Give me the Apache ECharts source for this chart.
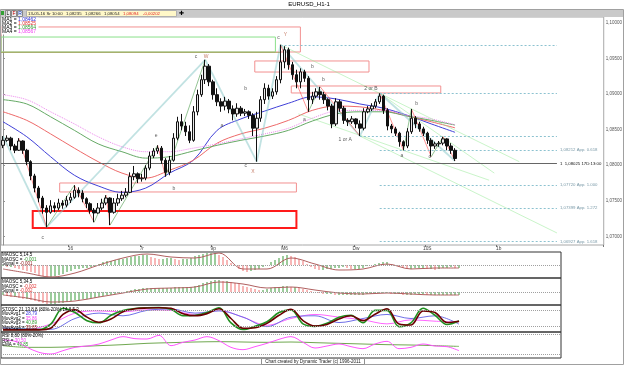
<!DOCTYPE html>
<html>
<head>
<meta charset="utf-8">
<title>EURUSD_H1-1</title>
<script src="https://cdn.jsdelivr.net/npm/echarts@6.0.0/dist/echarts.min.js"></script>
<style>
  html, body { margin: 0; padding: 0; background: #fff; }
  #main { width: 625px; height: 365px; }
</style>
</head>
<body>
<div id="main"></div>
<script>
// EURUSD H1 : price + 4 MAs + wave marks, then MAOSC x2, STOSC, RSI panels

// candles, open = previous close
var firstOpen = 1.0828;
var closes = [
  1.0835,1.0838,1.0827,1.0821,1.0834,1.0821,1.0805,1.0785,1.0768,1.0754,
  1.0740,1.0734,1.0743,1.0740,1.0747,1.0744,1.0751,1.0755,1.0765,1.0761,
  1.0753,1.0746,1.0737,1.0733,1.0740,1.0747,1.0754,1.0734,1.0747,1.0753,
  1.0758,1.0762,1.0784,1.0788,1.0781,1.0782,1.0796,1.0813,1.0820,1.0824,
  1.0807,1.0790,1.0807,1.0838,1.0861,1.0855,1.0847,1.0835,1.0875,1.0899,
  1.0920,1.0939,1.0917,1.0899,1.0889,1.0883,1.0890,1.0879,1.0872,1.0880,
  1.0873,1.0875,1.0870,1.0852,1.0866,1.0892,1.0908,1.0897,1.0903,1.0920,
  1.0945,1.0962,1.0941,1.0927,1.0917,1.0931,1.0922,1.0892,1.0897,1.0903,
  1.0899,1.0892,1.0883,1.0858,1.0889,1.0880,1.0863,1.0861,1.0865,1.0858,
  1.0852,1.0875,1.0879,1.0883,1.0889,1.0897,1.0877,1.0855,1.0851,1.0845,
  1.0833,1.0827,1.0847,1.0866,1.0858,1.0851,1.0845,1.0835,1.0827,1.0830,
  1.0831,1.0837,1.0827,1.0821,1.08094
];
var highs = [
  1.0841,1.0842,1.0840,1.0830,1.0838,1.0835,1.0823,1.0807,1.0788,1.0771,
  1.0757,1.0744,1.0751,1.0748,1.0753,1.0751,1.0757,1.0761,1.0772,1.0769,
  1.0765,1.0755,1.0748,1.0740,1.0747,1.0753,1.0758,1.0755,1.0754,1.0760,
  1.0764,1.0768,1.0790,1.0799,1.0790,1.0788,1.0800,1.0819,1.0824,1.0828,
  1.0827,1.0810,1.0813,1.0845,1.0868,1.0872,1.0861,1.0856,1.0883,1.0906,
  1.0927,1.0948,1.0942,1.0920,1.0908,1.0894,1.0896,1.0893,1.0884,1.0887,
  1.0883,1.0879,1.0877,1.0873,1.0875,1.0897,1.0915,1.0913,1.0908,1.0925,
  1.0969,1.0967,1.0965,1.0945,1.0934,1.0936,1.0934,1.0925,1.0903,1.0908,
  1.0910,1.0903,1.0894,1.0886,1.0894,1.0892,1.0883,1.0866,1.0869,1.0866,
  1.0863,1.0880,1.0883,1.0887,1.0893,1.0901,1.0899,1.0880,1.0858,1.0854,
  1.0847,1.0835,1.0852,1.0879,1.0869,1.0861,1.0854,1.0847,1.0838,1.0833,
  1.0834,1.0840,1.0838,1.0831,1.0824
];
var lows = [
  1.0824,1.0833,1.0821,1.0817,1.0820,1.0816,1.0800,1.0779,1.0762,1.0748,
  1.0732,1.0713,1.0732,1.0734,1.0737,1.0739,1.0741,1.0747,1.0753,1.0755,
  1.0748,1.0740,1.0732,1.0720,1.0732,1.0737,1.0744,1.0716,1.0732,1.0743,
  1.0750,1.0755,1.0761,1.0779,1.0775,1.0777,1.0779,1.0793,1.0810,1.0816,
  1.0802,1.0784,1.0786,1.0805,1.0835,1.0849,1.0841,1.0831,1.0833,1.0870,
  1.0896,1.0914,1.0911,1.0892,1.0883,1.0875,1.0877,1.0873,1.0863,1.0868,
  1.0869,1.0869,1.0865,1.0841,1.0805,1.0861,1.0886,1.0892,1.0893,1.0899,
  1.0915,1.0936,1.0934,1.0920,1.0908,1.0908,1.0917,1.0875,1.0886,1.0894,
  1.0892,1.0886,1.0877,1.0852,1.0855,1.0875,1.0858,1.0855,1.0858,1.0852,
  1.0841,1.0849,1.0873,1.0876,1.0880,1.0886,1.0872,1.0849,1.0845,1.0841,
  1.0826,1.0821,1.0824,1.0844,1.0852,1.0847,1.0841,1.0830,1.0812,1.0823,
  1.0826,1.0828,1.0821,1.0816,1.0806
];

var SLOTS = 152;      // main chart incl. empty future space
var SUB_SLOTS = 140;  // oscillator panels are narrower

var dayIdx = [17, 35, 53, 71, 89, 107, 125];
var dayLabels = ['16', '7r', '9p', 'M6', 'Dw', '10S', '1b'];
var priceTicks = [1.07, 1.075, 1.08, 1.085, 1.09, 1.095, 1.10];
var priceMin = 1.06881, priceMax = 1.10080;

// moving averages, read every 6th bar
var maIdx = [0,6,12,18,24,30,36,42,48,54,60,66,72,78,84,90,96,102,108,114];
var ma1 = [1.0861,1.0840,1.0812,1.0786,1.0771,1.0762,1.0768,1.0789,1.0807,1.0849,1.0865,1.0876,1.0887,1.0896,1.0893,1.0886,1.0880,1.0870,1.0858,1.08462];
var ma2 = [1.0875,1.0863,1.0844,1.0824,1.0805,1.0789,1.0782,1.0793,1.0807,1.0831,1.0844,1.0852,1.0863,1.0877,1.0883,1.0882,1.0877,1.0869,1.0861,1.08525];
var ma3 = [1.0892,1.0886,1.0868,1.0849,1.0830,1.0819,1.0810,1.0812,1.0820,1.0828,1.0835,1.0841,1.0849,1.0862,1.0872,1.0875,1.0875,1.0869,1.0863,1.08564];
var ma4 = [1.0899,1.0892,1.0875,1.0858,1.0840,1.0826,1.0819,1.0819,1.0824,1.0830,1.0837,1.0844,1.0852,1.0866,1.0876,1.0877,1.0877,1.0870,1.0865,1.08567];

// wave drawing: [bar, price]
var tealZig = [[0,1.0841],[11,1.0713],[51,1.0948],[64,1.0805],[70,1.0969],[90,1.0841],[95,1.0901],[114,1.0806]];
var minorZig = [
  [[4,1.0838],[11,1.0713],[18,1.0772],[23,1.0720],[26,1.0758],[27,1.0716],[39,1.0828],[41,1.0784],[51,1.0948]],
  [[70,1.0969],[77,1.0875],[80,1.0910],[90,1.0841]],
  [[95,1.0901],[101,1.0821],[103,1.0879],[108,1.0812],[111,1.0840],[114,1.0806]]
];
var trendLines = [
  [[70,1.0969],[130.2,1.0805]],
  [[95,1.0901],[123.9,1.0789]],
  [[74.5,1.0872],[122.6,1.0779]],
  [[90,1.0841],[139.7,1.0705]]
];
var levelLines = [[70,1.0969],[95,1.0901],[90,1.0841]];
var levelEnd = 139.7;
var fibStart = 95;
var fibPrices = [1.08212, 1.07720, 1.07399, 1.06927];
var fibRatios = ['0.618', '1.000', '1.272', '1.618'];
var pivotPrice = 1.08025;
var lastPrice = 1.08094;

var redBox = [[7.5,1.07358],[74,1.07120]];
var pinkBoxes = [
  [[-0.5,1.09940],[75,1.09589]],
  [[14.3,1.07751],[74,1.07625]],
  [[63.5,1.09463],[92.3,1.09308]],
  [[72.7,1.09112],[110.4,1.09014]]
];
var greenBox = [[-0.5,1.09799],[68.7,1.09589]];
var oliveLine = [[-0.5,1.09589],[70,1.09589]];

var noteText  = ['c','e','b','c','W','a','b','c','X','c','Y','b','b','a','1 or A','2 or B','a','b','c'];
var noteIdx   = [10,38.6,43.1,48.7,51.2,55.2,61.2,61.2,63,69.5,71.2,78,80.8,76,86.3,92.8,100.6,104.3,107.6];
var notePrice = [1.06987,1.08410,1.07667,1.09519,1.09519,1.08551,1.09070,1.07989,1.07905,1.09785,1.09827,1.09378,1.09196,1.08635,1.08354,1.09070,1.08130,1.08859,1.08116];

// MAOSC 5,14,5 (pips)
var osc1Hist = [
  -1,-2,-2,-3,-4,-5,-6,-7,-8,-10,
  -11,-12,-12,-11,-10,-9,-7,-6,-4,-4,
  -3,-3,-2,-1,1,3,4,4,5,6,
  6,7,8,9,9,10,10,8,7,6,
  6,7,7,6,5,6,6,7,9,10,
  11,12,12,12,10,8,5,2,-1,-4,
  -6,-7,-6,-5,-4,-2,0,3,5,7,
  9,10,9,8,6,4,1,-2,-4,-5,
  -5,-4,-4,-3,-3,-2,-3,-4,-4,-4,
  -3,-1,0,1,2,3,3,1,-1,-2,
  -3,-4,-4,-3,-3,-3,-4,-4,-5,-4,
  -3,-3,-2,-3,-3
];
var osc1Signal = [-4,-8,-12,-8,0,7,11,8,7,12,-4,-4,7,1,-5,-4,1,-4,-3,-3];

// MAOSC 5,34,5 (pips)
var osc2Hist = [
  -3,-4,-5,-5,-6,-7,-7,-8,-9,-10,
  -11,-12,-12,-12,-11,-11,-10,-9,-8,-8,
  -7,-7,-6,-6,-5,-4,-3,-3,-2,-1,
  0,1,2,3,3,4,4,4,4,4,
  4,4,4,5,5,5,5,5,6,7,
  9,10,11,12,12,11,11,10,9,8,
  6,5,4,3,2,2,3,4,5,5,
  6,6,5,5,4,3,2,1,0,-1,
  -2,-2,-2,-3,-3,-3,-3,-3,-3,-3,
  -3,-2,-2,-1,-1,-1,-1,-2,-2,-2,
  -3,-3,-3,-2,-2,-2,-3,-3,-3,-3,
  -3,-3,-3,-3,-3
];
var osc2Signal = [-3,-6,-10,-9,-5,-1,3,4,5,10,8,4,5,2,-1,-2,-1,-2,-3,-3];

// STOSC, read every 3rd bar (fast pair) / every 6th bar (slow pair)
var stIdx = [0,3,6,9,12,15,18,21,24,27,30,33,36,39,42,45,48,51,54,57,60,63,66,69,72,75,78,81,84,87,90,93,96,99,102,105,108,111,114];
var stGreen = [9,9,9,9,30,88,72,42,34,62,80,87,90,91,84,60,62,72,90,34,9,21,38,72,82,30,21,32,55,62,34,80,80,20,34,88,62,28,41];
var stRed   = [8,8,8,8,15,65,82,55,36,48,75,86,89,90,88,68,60,68,86,50,14,16,32,62,84,42,22,28,48,60,42,66,86,30,26,78,72,35,40];
var stBlue  = [15,12,10,50,70,60,80,85,70,78,55,20,55,60,35,50,65,50,60,29];
var stPink  = [12,10,30,70,78,75,82,80,65,80,55,25,50,65,55,45,30,45,40,36];

// RSI 8 + EMA
var rsi = [62,58,40,25,20,30,40,44,50,62,72,66,65,76,45,55,62,72,60,40,33,42,52,64,72,55,38,44,50,42,36,50,58,36,40,50,44,42,30];
var rsiEma = [45,40,40,42,45,48,52,54,56,57,56,55,56,54,52,50,48,47,45,42.85];

var FONT = '"Liberation Sans", Arial, sans-serif';

function pairs(idx, vals) { return idx.map(function (x, k) { return [x, vals[k]]; }); }
function seq(vals) { return vals.map(function (v, i) { return [i, v]; }); }
function fmtPrice(v) { return v.toFixed(5).replace('.', ','); }
function isDay(i) { return dayIdx.indexOf(i) >= 0; }

var cats = [];
for (var i = 0; i < SLOTS; i++) cats.push('');

var candles = closes.map(function (c, i) {
  var o = i ? closes[i - 1] : firstOpen;
  return [o, c, Math.min(lows[i], o, c), Math.max(highs[i], o, c)];
});

// zigzag / trend segments
var segs = [];
function pushZig(pts, up, down, w) {
  for (var k = 1; k < pts.length; k++) {
    segs.push({ coords: [pts[k - 1], pts[k]], lineStyle: { color: pts[k][1] > pts[k - 1][1] ? up : down, width: w } });
  }
}
trendLines.forEach(function (l) { segs.push({ coords: l, lineStyle: { color: '#94ea94', width: 1 } }); });
pushZig(tealZig, '#84c6c6', '#84c6c6', 1.8);
minorZig.forEach(function (run) { pushZig(run, '#2a8a2a', '#ff2a2a', 1); });
segs.push({ coords: oliveLine, lineStyle: { color: '#8c8c30', width: 1 } });

var levelData = levelLines.map(function (p) {
  return [{ coord: p }, { coord: [levelEnd, p[1]] }];
});
fibPrices.forEach(function (p, k) {
  levelData.push([{ coord: [fibStart, p], label: { show: true, formatter: fmtPrice(p) + ' App. ' + fibRatios[k] } }, { coord: [levelEnd, p] }]);
});
levelData.push([{ coord: [-0.5, pivotPrice], lineStyle: { color: '#666', type: 'solid' },
  label: { show: true, color: '#111', formatter: '1  ' + fmtPrice(pivotPrice) + ' 17D:13:00' } }, { coord: [levelEnd, pivotPrice] }]);
levelData.push({ yAxis: lastPrice, lineStyle: { opacity: 0 },
  label: { show: true, distance: 1, color: '#000', backgroundColor: '#ffff00', padding: [1, 1], formatter: fmtPrice(lastPrice) } });

var clear = 'rgba(0,0,0,0)';
var areaData = [[{ coord: redBox[0], itemStyle: { color: clear, borderColor: '#ff1a1a', borderWidth: 2 } }, { coord: redBox[1] }]];
pinkBoxes.forEach(function (b) {
  areaData.push([{ coord: b[0], itemStyle: { color: clear, borderColor: '#f29090', borderWidth: 1 } }, { coord: b[1] }]);
});
areaData.push([{ coord: greenBox[0], itemStyle: { color: clear, borderColor: '#8ae08a', borderWidth: 1 } }, { coord: greenBox[1] }]);

function histColor(arr) {
  return function (p) {
    var i = p.dataIndex;
    return (i === 0 || arr[i] >= arr[i - 1]) ? '#3a9a3a' : '#f07070';
  };
}
function dotted(levels) {
  return { silent: true, symbol: 'none', label: { show: false },
    lineStyle: { color: '#a0a0a0', type: 'dotted', width: 1 },
    data: levels.map(function (v) { return { yAxis: v }; }) };
}
function line(xi, yi, data, color, w, extra) {
  var s = { type: 'line', xAxisIndex: xi, yAxisIndex: yi, data: data, smooth: 0.35, showSymbol: false, silent: true,
    lineStyle: { color: color, width: w } };
  if (extra) Object.keys(extra).forEach(function (k) { s.lineStyle[k] = extra[k]; });
  return s;
}

// static text / frames
function txt(x, y, text, size, fill, rich, align) {
  var st = { text: text, font: size + 'px ' + FONT, fill: fill || '#000', align: align || 'left', verticalAlign: 'middle' };
  if (rich) st.rich = rich;
  return { type: 'text', x: x, y: y, silent: true, z: 100, style: st };
}
function box(x, y, w, h, fill, stroke) {
  return { type: 'rect', shape: { x: x, y: y, width: w, height: h }, silent: true, z: 95,
    style: { fill: fill || 'none', stroke: stroke || null, lineWidth: 1 } };
}
var R = { b: { fill: '#3333dd' }, r: { fill: '#e03030' }, g: { fill: '#2f9a2f' }, m: { fill: '#f040f0' }, d: { fill: '#8a1010' } };

var graphics = [
  box(0.5, 9.5, 623, 355, 'none', '#a0a0a0'),
  box(1, 10, 622, 7, '#c9c9c9', null),
  txt(309, 4.5, 'EURUSD_H1-1', 6, '#000', null, 'center'),
  box(1, 11, 3, 4, '#33a033', null),
  box(5.5, 10.5, 5, 6, '#eeeeee', '#888'),
  box(11.5, 10.5, 5, 6, '#eeeeee', '#888'),
  box(17.5, 10.5, 5, 6, '#eeeeee', '#888'),
  txt(8, 13.5, 'L', 5, '#000', null, 'center'),
  txt(14, 13.5, 'F', 5, '#c00000', null, 'center'),
  txt(20, 13.5, 'R', 5, '#0030c0', null, 'center'),
  box(26.5, 10.5, 150, 6, '#fff8c8', '#b0b0b0'),
  txt(28, 13.5, '13-05-16 Sr 10:00', 4.3, '#222'),
  txt(66, 13.5, '1,08235', 4.3, '#222'),
  txt(85, 13.5, '1,08266', 4.3, '#222'),
  txt(104, 13.5, '1,08054', 4.3, '#222'),
  txt(123, 13.5, '1,08094', 4.3, '#e02020'),
  txt(143, 13.5, '-0,00202', 4.3, '#e02020'),
  txt(181, 13.5, '\u271A', 5.5, '#000', null, 'center'),
  box(1.5, 17.5, 37, 17, '#ffffff', null),
  txt(2, 20, 'MA1 = {b|1,08462}', 5, '#000', R),
  txt(2, 24, 'MA2 = {r|1,08525}', 5, '#000', R),
  txt(2, 28, 'MA3 = {g|1,08564}', 5, '#000', R),
  txt(2, 32, 'MA4 = {m|1,08567}', 5, '#000', R),
  txt(2, 255, 'MAOSC 5,14,5', 4.5, '#000'),
  txt(2, 259.5, 'MAOSC = {g|-0,001}', 4.5, '#000', R),
  txt(2, 264, 'Signal = {d|-0,001}', 4.5, '#000', R),
  txt(2, 282, 'MAOSC 5,34,5', 4.5, '#000'),
  txt(2, 286.5, 'MAOSC = {r|-0,002}', 4.5, '#000', R),
  txt(2, 291, 'Signal = {r|-0,002}', 4.5, '#000', R),
  txt(2, 309.5, 'STOSC 21,13,8,8 (80%-20%) 14,8,5,3', 4.5, '#000'),
  txt(2, 314, 'MovAvg1 = {b|28,79}', 4.5, '#000', R),
  txt(2, 318.5, 'MovAvg2 = {m|35,86}', 4.5, '#000', R),
  txt(2, 323, 'MovAvg3 = {g|40,89}', 4.5, '#000', R),
  txt(2, 327.5, 'MovAvg4 = {d|39,65}', 4.5, '#000', R),
  txt(2, 336, 'RSI 8,80 (80%-20%)', 4.5, '#000'),
  txt(2, 340.5, 'RSI = {m|30,50}', 4.5, '#000', R),
  txt(2, 345, 'EMA = {g|42,85}', 4.5, '#000', R),
  box(261.5, 358.5, 103, 6, '#ffffff', '#909090'),
  txt(313, 361.5, 'Chart created by Dynamic Trader (c) 1996-2011', 4.5, '#222', null, 'center')
];

var chart = echarts.init(document.getElementById('main'), null, { renderer: 'canvas' });

var subGrid = function (top, h) { return { left: 1, width: 560, top: top, height: h, show: true, borderColor: '#333', borderWidth: 1 }; };
var subX = function (g) { return { type: 'value', gridIndex: g, min: -0.5, max: SUB_SLOTS - 0.5, show: false }; };
var subY = function (g, mn, mx) { return { type: 'value', gridIndex: g, min: mn, max: mx, show: false }; };

var option = {
  animation: false,
  backgroundColor: '#ffffff',
  textStyle: { fontFamily: FONT },
  graphic: { elements: graphics },
  grid: [
    { left: 1, right: 18, top: 17, bottom: 120, show: true, borderColor: '#a8a8a8', borderWidth: 1 },
    subGrid(252, 26),
    subGrid(278, 27),
    subGrid(305, 27),
    subGrid(332, 26)
  ],
  xAxis: [
    { type: 'category', gridIndex: 0, data: cats, boundaryGap: true,
      axisLine: { show: false },
      axisTick: { show: true, interval: isDay, length: 2, lineStyle: { color: '#777' } },
      axisLabel: { interval: isDay, margin: 1, fontSize: 4.8, color: '#444',
        formatter: function (v, idx) { return dayLabels[dayIdx.indexOf(idx)] || ''; } },
      splitLine: { show: false } },
    { type: 'value', gridIndex: 0, min: -0.5, max: SLOTS - 0.5, show: false },
    subX(1), subX(2), subX(3), subX(4)
  ],
  yAxis: [
    { type: 'value', gridIndex: 0, position: 'right', min: priceMin, max: priceMax,
      axisLine: { show: true, lineStyle: { color: '#909090' } },
      axisTick: { show: true, length: 2, customValues: priceTicks, lineStyle: { color: '#909090' } },
      axisLabel: { customValues: priceTicks, margin: 2, fontSize: 4.5, color: '#555', formatter: fmtPrice },
      splitLine: { show: false } },
    subY(1, -13, 13),
    subY(2, -13, 14),
    subY(3, 0, 100),
    subY(4, 8, 86)
  ],
  series: [
    { type: 'candlestick', xAxisIndex: 0, yAxisIndex: 0, data: candles, barWidth: 3, silent: true, z: 5,
      itemStyle: { color: '#e8e8e8', color0: '#111111', borderColor: '#111111', borderColor0: '#111111', borderWidth: 1 } },
    line(1, 0, pairs(maIdx, ma1), '#4040d8', 1),
    line(1, 0, pairs(maIdx, ma2), '#ee6a6a', 1),
    line(1, 0, pairs(maIdx, ma3), '#66aa66', 1),
    line(1, 0, pairs(maIdx, ma4), '#ee88ee', 1, { type: 'dotted' }),
    { type: 'lines', coordinateSystem: 'cartesian2d', xAxisIndex: 1, yAxisIndex: 0, data: segs, silent: true, z: 4 },
    { type: 'line', xAxisIndex: 1, yAxisIndex: 0, data: [], silent: true, z: 3,
      markArea: { silent: true, label: { show: false }, data: areaData },
      markLine: { silent: true, symbol: ['none', 'none'], precision: 5,
        lineStyle: { color: '#8cc2d0', type: [2, 2], width: 1 },
        label: { show: false, position: 'end', distance: 3, fontSize: 4.3, color: '#7a9aa8' },
        data: levelData } },
    { type: 'scatter', xAxisIndex: 1, yAxisIndex: 0, symbolSize: 1, silent: true, z: 6,
      itemStyle: { color: clear },
      label: { show: true, position: 'inside', fontSize: 5, formatter: '{b}' },
      data: noteText.map(function (t, k) {
        return { name: t, value: [noteIdx[k], notePrice[k]], label: { color: /^[WXY]$/.test(t) ? '#b4553a' : '#333' } };
      }) },

    { type: 'bar', xAxisIndex: 2, yAxisIndex: 1, data: seq(osc1Hist), barWidth: 1, silent: true,
      itemStyle: { color: histColor(osc1Hist) }, markLine: dotted([0]) },
    line(2, 1, pairs(maIdx, osc1Signal), '#b06060', 1),

    { type: 'bar', xAxisIndex: 3, yAxisIndex: 2, data: seq(osc2Hist), barWidth: 1, silent: true,
      itemStyle: { color: histColor(osc2Hist) }, markLine: dotted([0]) },
    line(3, 2, pairs(maIdx, osc2Signal), '#b06060', 1),

    line(4, 3, pairs(maIdx, stPink), '#ff66ff', 1),
    line(4, 3, pairs(maIdx, stBlue), '#7070e8', 1),
    line(4, 3, pairs(stIdx, stGreen), '#1f8f1f', 1.6),
    line(4, 3, pairs(stIdx, stRed), '#6a0000', 1.6),
    { type: 'line', xAxisIndex: 4, yAxisIndex: 3, data: [], markLine: dotted([80, 20]) },

    line(5, 4, pairs(maIdx, rsiEma), '#70a850', 1),
    line(5, 4, pairs(stIdx, rsi), '#ff55ff', 1),
    { type: 'line', xAxisIndex: 5, yAxisIndex: 4, data: [], markLine: dotted([80, 20]) }
  ]
};

chart.setOption(option);
</script>
</body>
</html>
